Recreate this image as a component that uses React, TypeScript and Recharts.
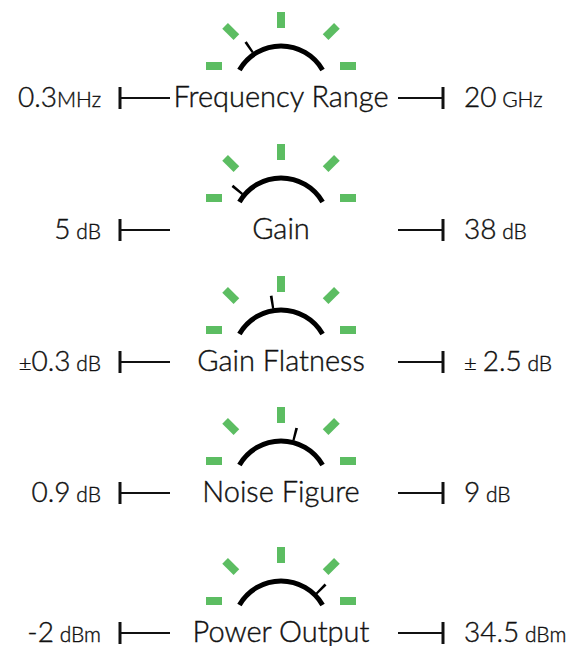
import React from 'react'
import { PieChart, Pie, Cell } from 'recharts'

// spec rows, top to bottom
const specNames = ['Frequency Range', 'Gain', 'Gain Flatness', 'Noise Figure', 'Power Output']
const minValues = ['0.3', '5', '0.3', '0.9', '-2']
const minUnits = ['MHz', ' dB', ' dB', ' dB', ' dBm']
const maxValues = ['20', '38', '2.5', '9', '34.5']
const maxUnits = [' GHz', ' dB', ' dB', ' dB', ' dBm']
const plusMinus = [false, false, true, false, false]
// needle position on each dial, 0 = far left, 100 = far right
const needleValues = [31, 22, 45, 58, 75]

const W = 570
const H = 646
const CX = 281
const ROW_Y = [98, 230, 362, 493, 633]
const GREEN = '#5cbd62'
const INK = '#111'
const FONT = 'Lato, "Open Sans", sans-serif'
const TEXT_STYLE = {
  fontFamily: FONT,
  fontWeight: 300,
  fill: INK,
  stroke: INK,
  strokeWidth: 0.4,
  whiteSpace: 'pre' as const,
}
const NEEDLE_W = 1.4

const Rays = ({ cy }: { cy: number }) => {
  const angles = [180, 135, 90, 45, 0]
  return (
    <g>
      {angles.map((a) => {
        const rad = (a * Math.PI) / 180
        const c = Math.cos(rad)
        const s = Math.sin(rad)
        const x = CX + 67 * Math.sign(c) * Math.pow(Math.abs(c), 0.83)
        const y = cy - 28 - 46 * Math.pow(Math.abs(s), 0.83)
        return (
          <rect
            key={a}
            x={x - 8}
            y={y - 4}
            width={16}
            height={8}
            fill={GREEN}
            transform={`rotate(${-a} ${x} ${y})`}
          />
        )
      })}
    </g>
  )
}

const Row = ({ i }: { i: number }) => {
  const y = ROW_Y[i]
  return (
    <g>
      <text x={101} y={y + 9} textAnchor="end" style={TEXT_STYLE}>
        {plusMinus[i] && <tspan fontSize={22}>±</tspan>}
        <tspan fontSize={28}>{minValues[i]}</tspan>
        <tspan fontSize={21}>{minUnits[i]}</tspan>
      </text>
      <line x1={120} x2={120} y1={y - 11} y2={y + 11} stroke={INK} strokeWidth={3} />
      <line x1={120} x2={170} y1={y} y2={y} stroke={INK} strokeWidth={2} />
      <text x={281} y={y + 9} textAnchor="middle" fontSize={29} style={TEXT_STYLE}>
        {specNames[i]}
      </text>
      <line x1={398} x2={443} y1={y} y2={y} stroke={INK} strokeWidth={2} />
      <line x1={443} x2={443} y1={y - 11} y2={y + 11} stroke={INK} strokeWidth={3} />
      <text x={464} y={y + 9} textAnchor="start" style={TEXT_STYLE}>
        {plusMinus[i] && <tspan fontSize={22}>{'± '}</tspan>}
        <tspan fontSize={28}>{maxValues[i]}</tspan>
        <tspan fontSize={21}>{maxUnits[i]}</tspan>
      </text>
    </g>
  )
}

export default function App() {
  return (
    <div style={{ position: 'absolute', left: 0, top: 0, background: '#fff' }}>
      <PieChart width={W} height={H} margin={{ top: 0, right: 0, bottom: 0, left: 0 }}>
        {specNames.map((name, i) => {
          const gy = ROW_Y[i] - 4
          const v = needleValues[i]
          const needleData = [
            { part: 'before', v: v - NEEDLE_W / 2 },
            { part: 'needle', v: NEEDLE_W },
            { part: 'after', v: 100 - v - NEEDLE_W / 2 },
          ]
          return [
            <Pie
              key={`arc-${name}`}
              data={[{ part: 'dial', v: 1 }]}
              dataKey="v"
              nameKey="part"
              cx={CX}
              cy={gy}
              startAngle={150}
              endAngle={30}
              innerRadius={45.5}
              outerRadius={50.5}
              fill="#000"
              stroke="none"
              isAnimationActive={false}
            />,
            <Pie
              key={`needle-${name}`}
              data={needleData}
              dataKey="v"
              nameKey="part"
              cx={CX}
              cy={gy}
              startAngle={180}
              endAngle={0}
              innerRadius={50}
              outerRadius={63}
              stroke="none"
              isAnimationActive={false}
            >
              {needleData.map((d) => (
                <Cell key={d.part} fill={d.part === 'needle' ? '#000' : 'none'} />
              ))}
            </Pie>,
            <Rays key={`rays-${name}`} cy={gy} />,
            <Row key={`row-${name}`} i={i} />,
          ]
        })}
      </PieChart>
    </div>
  )
}
